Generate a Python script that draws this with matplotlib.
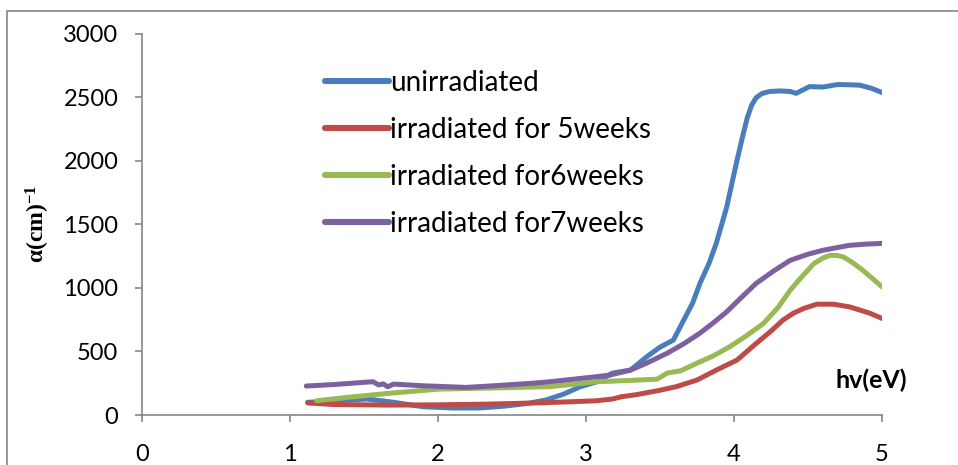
import matplotlib
matplotlib.use("Agg")
import matplotlib.pyplot as plt
from matplotlib.patches import Rectangle

plt.rcParams['font.family'] = ['Lato', 'DejaVu Sans']
plt.rcParams['mathtext.default'] = 'regular'

# photon energy hv (eV) and absorption coefficient (cm^-1)
hv_unirr = [1.12, 1.3, 1.52, 1.7, 1.9, 2.1, 2.28, 2.45, 2.6, 2.73, 2.85, 2.96, 3.07, 3.18, 3.3,
            3.41, 3.5, 3.59, 3.66, 3.72, 3.77, 3.83, 3.88, 3.95, 4.02, 4.06, 4.09, 4.12,
            4.15, 4.19, 4.24, 4.31, 4.38, 4.42, 4.47, 4.51, 4.6, 4.7, 4.78, 4.85, 4.93, 5.0]
a_unirr = [100, 110, 126, 100, 65, 55, 55, 70, 90, 118, 165, 222, 260, 330, 353,
           458, 534, 589, 746, 880, 1036, 1190, 1350, 1633, 2002, 2200, 2340, 2440,
           2497, 2530, 2545, 2550, 2545, 2531, 2560, 2584, 2580, 2600, 2598, 2595, 2570, 2537]

hv_5w = [1.12, 1.3, 1.5, 1.68, 2.0, 2.35, 2.73, 3.07, 3.18, 3.24, 3.34, 3.48, 3.61, 3.75,
         3.88, 4.02, 4.15, 4.25, 4.33, 4.4, 4.47, 4.56, 4.67, 4.78, 4.92, 5.0]
a_5w = [95, 82, 80, 78, 80, 86, 97, 112, 126, 144, 160, 190, 223, 275,
        353, 432, 563, 660, 746, 800, 838, 872, 872, 851, 800, 760]

hv_6w = [1.18, 1.4, 1.68, 2.01, 2.35, 2.76, 3.07, 3.3, 3.48, 3.55, 3.64, 3.75, 3.86, 3.97,
         4.08, 4.2, 4.3, 4.38, 4.46, 4.54, 4.6, 4.65, 4.7, 4.74, 4.8, 4.87, 4.94, 5.0]
a_6w = [112, 140, 172, 204, 212, 223, 262, 272, 282, 330, 348, 408, 465, 536,
        620, 721, 850, 982, 1090, 1191, 1235, 1256, 1255, 1243, 1200, 1139, 1070, 1008]

hv_7w = [1.11, 1.3, 1.56, 1.6, 1.63, 1.66, 1.7, 1.9, 2.19, 2.35, 2.64, 2.76, 2.9, 3.07, 3.16,
         3.3, 3.41, 3.55, 3.66, 3.77, 3.86, 3.95, 4.05, 4.15, 4.27, 4.38, 4.5, 4.6, 4.78, 4.9, 5.0]
a_7w = [228, 240, 262, 236, 245, 222, 243, 230, 217, 228, 250, 262, 280, 301, 314,
        353, 408, 487, 560, 644, 725, 811, 925, 1036, 1135, 1217, 1265, 1296, 1335, 1345, 1350]

labels = ['unirradiated', 'irradiated for 5weeks', 'irradiated for6weeks', 'irradiated for7weeks']
colors = ['#4a7ebb', '#be4b48', '#98b954', '#7d60a0']

fig = plt.figure(figsize=(9.58, 4.65), dpi=100)
ax = fig.add_axes([142 / 958, 50 / 465, 740 / 958, 381.3 / 465])

series = [(hv_unirr, a_unirr), (hv_5w, a_5w), (hv_6w, a_6w), (hv_7w, a_7w)]
for (x, y), lab, c in zip(series, labels, colors):
    ax.plot(x, y, color=c, lw=3.6, label=lab, solid_capstyle='round', solid_joinstyle='round')

ax.set_xlim(0, 5)
ax.set_ylim(0, 3000)
ax.set_xticks(range(0, 6))
ax.set_yticks(range(0, 3001, 500))
ax.spines['top'].set_visible(False)
ax.spines['right'].set_visible(False)
for s in ['left', 'bottom']:
    ax.spines[s].set_color('#868686')
    ax.spines[s].set_linewidth(1.2)
ax.tick_params(direction='out', length=5, width=1.2, color='#868686', labelsize=17)
ax.tick_params(axis='x', pad=16)
ax.tick_params(axis='y', pad=12)

ax.set_ylabel(r'α(cm)$^{-1}$', fontfamily='Liberation Serif', fontweight='bold', fontsize=17)
ax.yaxis.set_label_coords(-0.122, 0.5)
ax.text(4.93, 275, 'hv(eV)', fontsize=18, fontweight='bold', ha='center', va='center')

leg = ax.legend(loc='upper left', bbox_to_anchor=(0.232, 0.935), frameon=False, fontsize=20,
                handlelength=2.3, handletextpad=0.05, labelspacing=0.76, borderaxespad=0)
for h in leg.get_lines():
    h.set_linewidth(4.4)

# chart-area border (cut off at right and bottom in the reference)
fig.add_artist(Rectangle((7 / 958, -0.1), 1.2, 1.1 - 11 / 465, transform=fig.transFigure,
                         fill=False, edgecolor='#868686', lw=1.2))

fig.savefig('out.png', dpi=100)
